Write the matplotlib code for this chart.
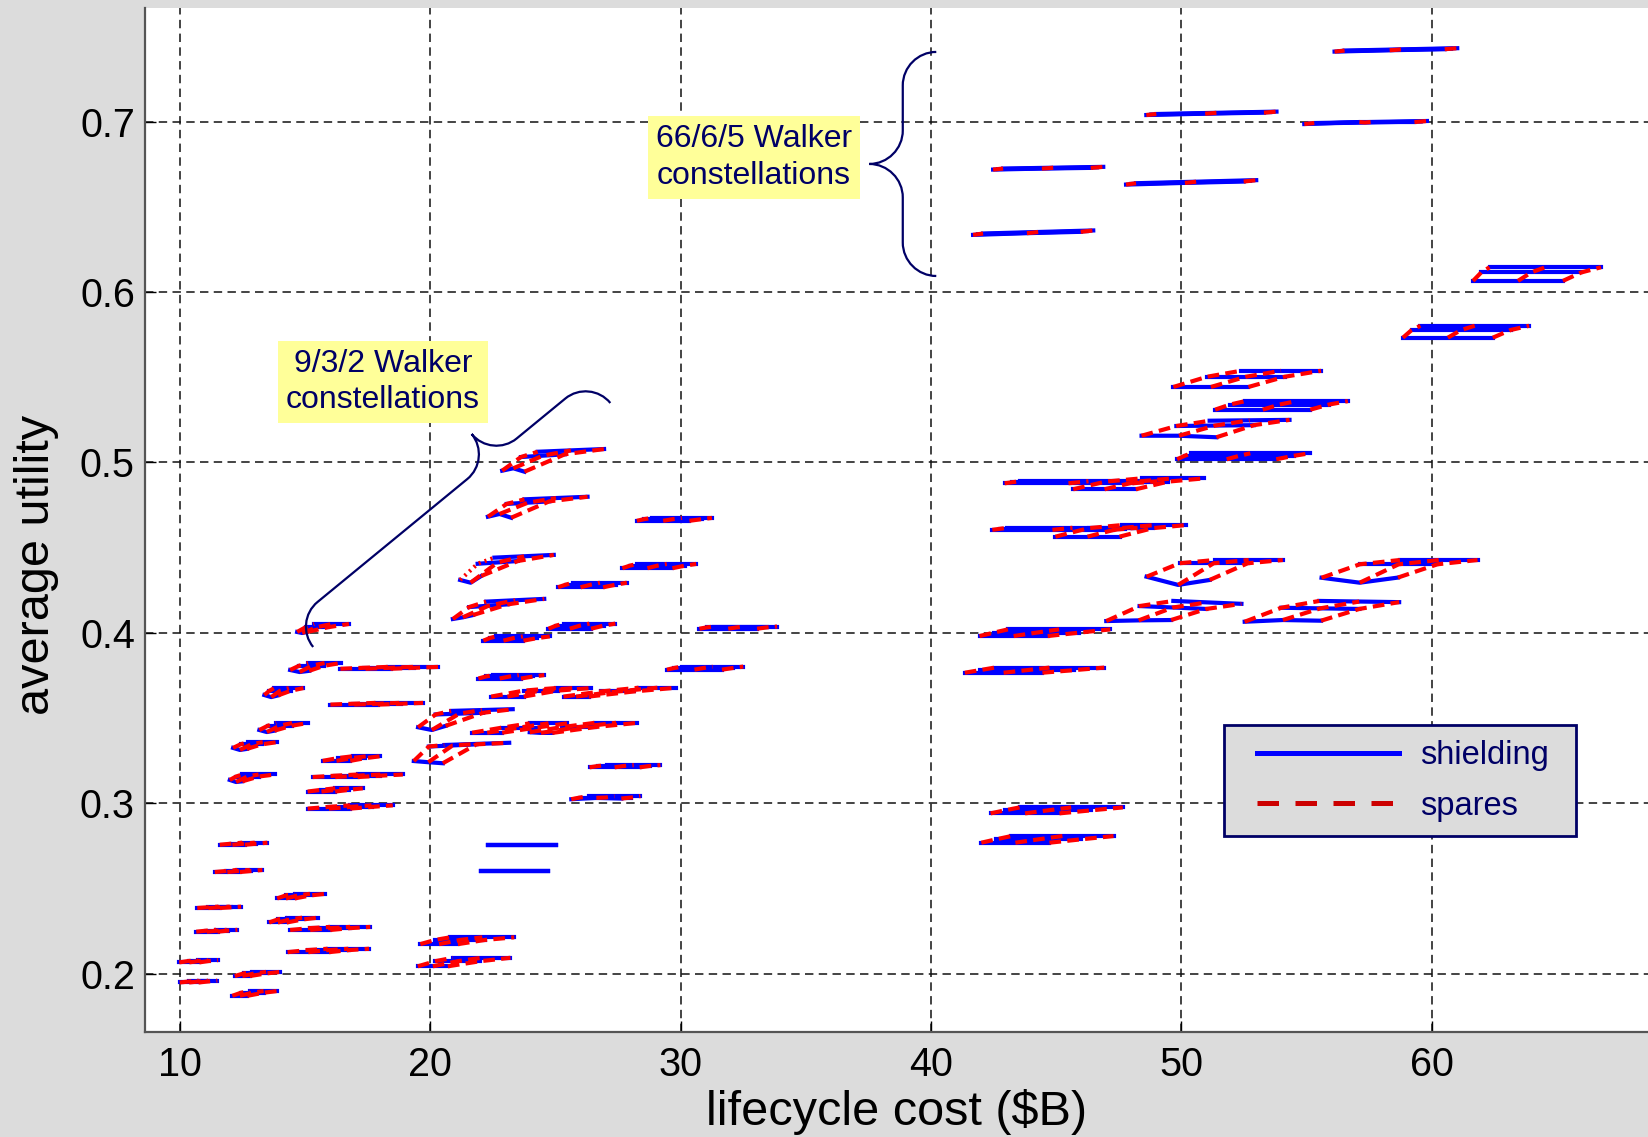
import matplotlib
matplotlib.use("Agg")
import numpy as np
import matplotlib.pyplot as plt
from matplotlib.lines import Line2D
from matplotlib.legend_handler import HandlerLine2D
from matplotlib.path import Path
from matplotlib.patches import PathPatch

plt.rcParams["font.family"] = ["Liberation Sans", "DejaVu Sans"]

# one row per design family:
# cost0, util0, shielding span at 0/1/2 spares, cost shift for 1/2 spares,
# utility shift for 1/2 spares, shielding utility on the 0-spares line (k1, k2),
# utility tilt of the shielding lines with spares
left_groups = [
    (9.97, 0.2068, 0.80, 0.80, 0.80, 0.37, 0.75, 0.0008, 0.0013, 0, 0, 0),
    (9.99, 0.1950, 0.75, 0.75, 0.75, 0.37, 0.75, 0.0006, 0.0011, 0, 0, 0),
    (10.65, 0.2248, 0.85, 0.85, 0.85, 0.40, 0.79, 0.0006, 0.0011, 0, 0, 0),
    (10.69, 0.2387, 0.90, 0.90, 0.90, 0.43, 0.85, 0.0004, 0.0008, 0, 0, 0),
    (11.39, 0.2598, 1.00, 1.00, 1.00, 0.45, 0.90, 0.0006, 0.0012, 0, 0, 0),
    (11.59, 0.2758, 1.00, 1.00, 1.00, 0.45, 0.90, 0.0006, 0.0012, 0, 0, 0),
    (12.19, 0.1988, 0.60, 0.90, 1.10, 0.35, 0.70, 0.0015, 0.0024, 0, 0, 0),
    (12.09, 0.1872, 0.60, 0.90, 1.10, 0.35, 0.70, 0.0018, 0.0028, 0, 0, 0),
    (13.56, 0.2302, 0.70, 1.00, 1.24, 0.35, 0.70, 0.0018, 0.0028, 0, 0, 0),
    (13.88, 0.2443, 0.70, 1.00, 1.22, 0.35, 0.70, 0.0018, 0.0027, 0, 0, 0),
    (14.40, 0.2258, 1.60, 1.60, 1.60, 0.80, 1.60, 0.0011, 0.0018, 0, 0, 0),
    (14.30, 0.2128, 1.65, 1.65, 1.65, 0.80, 1.60, 0.0012, 0.0020, 0, 0, 0),
    (11.99, 0.3138, 0.50, 0.90, 1.30, 0.25, 0.50, 0.0020, 0.0032, -0.0012, -0.0008, 0),
    (12.12, 0.3326, 0.55, 0.85, 1.17, 0.30, 0.60, 0.0021, 0.0034, -0.0012, -0.0006, 0),
    (13.17, 0.3431, 0.60, 0.95, 1.25, 0.34, 0.68, 0.0025, 0.0041, -0.0012, -0.0004, 0),
    (13.37, 0.3636, 0.55, 0.85, 1.16, 0.20, 0.40, 0.0025, 0.0041, -0.0012, -0.0002, 0),
    (14.40, 0.3783, 0.76, 1.00, 1.31, 0.36, 0.72, 0.0025, 0.0041, -0.0012, -0.0005, 0),
    (14.68, 0.4006, 0.40, 0.90, 1.39, 0.34, 0.68, 0.0028, 0.0047, -0.0006, 0.0, 0),
    (16.41, 0.3790, 2.00, 2.00, 2.00, 0.95, 1.90, 0.0006, 0.0011, 0, 0, 0),
    (16.01, 0.3580, 1.90, 1.90, 1.90, 0.90, 1.80, 0.0005, 0.0010, 0, 0, 0),
    (15.70, 0.3250, 1.10, 1.10, 1.10, 0.60, 1.20, 0.0016, 0.0027, 0, 0, 0),
    (15.30, 0.3155, 1.80, 1.80, 1.80, 0.90, 1.80, 0.0008, 0.0015, 0, 0, 0),
    (15.10, 0.3070, 1.10, 1.10, 1.10, 0.55, 1.10, 0.0010, 0.0019, 0, 0, 0),
    (15.10, 0.2970, 1.70, 1.70, 1.70, 0.85, 1.70, 0.0010, 0.0019, 0, 0, 0),
]

middle_groups = [
    (22.87, 0.4952, 0.89, 1.75, 2.65, 0.75, 1.42, 0.0080, 0.0111, 0.0014, -0.0006, 0.0016),
    (22.30, 0.4682, 0.93, 1.70, 2.52, 0.75, 1.46, 0.0075, 0.0102, 0.0016, -0.0006, 0.0015),
    (21.19, 0.4311, 0.84, 1.60, 2.37, 0.70, 1.37, 0.0095, 0.0131, -0.0016, 0.0023, 0.0016),
    (20.90, 0.4082, 0.80, 1.55, 2.32, 0.65, 1.33, 0.0070, 0.0102, 0.0010, 0.0023, 0.0016),
    (22.12, 0.3955, 1.60, 1.90, 2.15, 0.25, 0.50, 0.0015, 0.0025, 0, 0, 0),
    (24.72, 0.4025, 1.70, 1.90, 2.07, 0.30, 0.60, 0.0018, 0.0030, 0, 0, 0),
    (25.10, 0.4268, 1.80, 2.00, 2.15, 0.30, 0.60, 0.0015, 0.0027, 0, 0, 0),
    (27.67, 0.4380, 2.00, 2.20, 2.35, 0.30, 0.60, 0.0015, 0.0025, 0, 0, 0),
    (28.25, 0.4658, 2.10, 2.30, 2.40, 0.30, 0.60, 0.0010, 0.0017, 0, 0, 0),
    (21.92, 0.3733, 1.70, 1.90, 2.03, 0.30, 0.60, 0.0012, 0.0020, 0, 0, 0),
    (22.43, 0.3627, 1.30, 1.35, 1.40, 1.30, 2.60, 0.0035, 0.0050, 0, 0, 0),
    (25.32, 0.3627, 1.00, 1.30, 1.50, 1.50, 3.00, 0.0030, 0.0052, 0, 0, 0),
    (19.51, 0.3447, 1.10, 1.90, 2.46, 0.70, 1.32, 0.0075, 0.0096, -0.0016, 0.0008, 0.0010),
    (21.67, 0.3415, 1.20, 1.35, 1.50, 1.20, 2.30, 0.0030, 0.0055, 0, 0, 0),
    (23.97, 0.3418, 0.90, 1.30, 1.70, 1.30, 2.60, 0.0030, 0.0055, -0.0004, -0.0004, 0),
    (19.34, 0.3249, 1.16, 1.90, 2.59, 0.60, 1.22, 0.0085, 0.0094, -0.0007, -0.0013, 0.0013),
    (26.36, 0.3212, 2.00, 2.05, 2.13, 0.35, 0.70, 0.0008, 0.0013, 0, 0, 0),
    (25.63, 0.3025, 2.00, 2.05, 2.06, 0.35, 0.70, 0.0010, 0.0018, 0.0008, 0.0004, 0),
    (22.30, 0.2757, 2.70, 2.70, 2.70, 0.00, 0.00, 0.0, 0.0, 0, 0, 0),
    (22.02, 0.2604, 2.70, 2.70, 2.70, 0.00, 0.00, 0.0, 0.0, 0, 0, 0),
    (19.60, 0.2175, 1.50, 2.00, 2.55, 0.60, 1.20, 0.0025, 0.0040, 0, 0, 0),
    (19.50, 0.2045, 1.20, 1.80, 2.30, 0.70, 1.40, 0.0030, 0.0050, 0, 0, 0),
    (30.75, 0.4025, 2.30, 2.40, 2.50, 0.30, 0.60, 0.0008, 0.0013, 0, 0, 0),
    (29.45, 0.3785, 2.20, 2.35, 2.45, 0.30, 0.60, 0.0010, 0.0018, 0, 0, 0),
]

right_groups = [
    (41.35, 0.3767, 3.10, 3.75, 4.38, 0.60, 1.19, 0.0015, 0.0030, 0, 0, 0),
    (41.94, 0.3982, 2.72, 3.40, 4.09, 0.57, 1.13, 0.0020, 0.0039, 0, 0, 0),
    (42.38, 0.2942, 2.75, 3.45, 4.12, 0.58, 1.16, 0.0018, 0.0035, 0, 0, 0),
    (42.01, 0.2770, 2.72, 3.40, 4.08, 0.60, 1.20, 0.0020, 0.0039, 0, 0, 0),
    (42.45, 0.4605, 4.80, 5.00, 5.20, 0.30, 0.60, 0.0006, 0.0012, 0, 0, 0),
    (44.97, 0.4565, 2.56, 2.56, 2.56, 1.33, 2.66, 0.0050, 0.0068, 0, 0, 0),
    (42.94, 0.4878, 5.10, 5.30, 5.50, 0.30, 0.60, 0.0006, 0.0012, 0, 0, 0),
    (45.68, 0.4843, 2.50, 2.50, 2.50, 1.30, 2.73, 0.0045, 0.0064, 0, 0, 0),
    (47.00, 0.4070, 2.59, 2.67, 2.72, 1.33, 2.68, 0.0088, 0.0118, 0.0004, 0.0006, -0.0017),
    (52.53, 0.4066, 3.05, 3.12, 3.19, 1.46, 2.98, 0.0082, 0.0122, 0.0010, 0.0006, -0.0007),
    (48.61, 0.4330, 2.52, 2.72, 2.72, 1.32, 2.72, 0.0079, 0.0098, -0.0048, -0.0019, 0),
    (55.60, 0.4324, 3.05, 3.10, 3.10, 1.53, 3.13, 0.0079, 0.0104, -0.0029, 0.0001, 0),
    (48.41, 0.5157, 2.99, 3.10, 3.19, 1.39, 2.72, 0.0057, 0.0088, 0.0, -0.0009, 0.0005),
    (49.83, 0.5019, 3.96, 4.35, 4.75, 0.30, 0.55, 0.0020, 0.0035, 0, 0, 0),
    (51.35, 0.5310, 3.80, 3.95, 4.10, 0.60, 1.20, 0.0030, 0.0050, 0, 0, 0),
    (49.68, 0.5443, 3.00, 3.10, 3.20, 1.35, 2.70, 0.0060, 0.0095, 0, 0, 0),
    (58.85, 0.5732, 3.59, 3.95, 4.34, 0.35, 0.70, 0.0045, 0.0070, 0, 0, 0),
    (61.65, 0.6065, 3.59, 4.00, 4.45, 0.33, 0.66, 0.0050, 0.0080, 0, 0, 0),
]

walker_66_groups = [
    (41.68, 0.6335, 4.30, 4.35, 4.40, 0.20, 0.40, 0.0004, 0.0008, 0.0010, 0.0018, 0.0018),
    (42.48, 0.6718, 3.90, 3.95, 4.00, 0.20, 0.40, 0.0003, 0.0006, 0.0006, 0.0010, 0.0010),
    (47.79, 0.6630, 4.70, 4.75, 4.80, 0.20, 0.40, 0.0004, 0.0008, 0.0010, 0.0018, 0.0018),
    (48.60, 0.7038, 4.70, 4.75, 4.80, 0.20, 0.40, 0.0003, 0.0006, 0.0008, 0.0014, 0.0014),
    (54.91, 0.6985, 4.40, 4.45, 4.50, 0.20, 0.40, 0.0003, 0.0006, 0.0012, 0.0012, 0.0012),
    (56.12, 0.7410, 4.40, 4.45, 4.50, 0.20, 0.40, 0.0003, 0.0006, 0.0008, 0.0014, 0.0014),
]

# group whose no-shielding spares line is dotted
dotted_groups = [("middle", 2)]

shield_frac = [0.0, 0.5, 1.0]

x_ticks = [10, 20, 30, 40, 50, 60]
x_tick_labels = ["10", "20", "30", "40", "50", "60"]
y_ticks = [0.2, 0.3, 0.4, 0.5, 0.6, 0.7]
y_tick_labels = ["0.2", "0.3", "0.4", "0.5", "0.6", "0.7"]

BLUE = "#0000ff"
RED = "#ff0000"
NAVY = "#000066"
GREY = "#dcdcdc"


def group_grid(row):
    c0, u0, w0, w1, w2, dc1, dc2, du1, du2, k1, k2, kt = row
    spans = [w0, w1, w2]
    dcs = [0.0, dc1, dc2]
    dus = [0.0, du1, du2]
    ks = [0.0, k1, k2]
    cost = np.zeros((3, 3))
    util = np.zeros((3, 3))
    for s in range(3):
        for k in range(3):
            cost[s, k] = c0 + dcs[s] + spans[s] * shield_frac[k]
            if s == 0:
                util[s, k] = u0 + ks[k]
            else:
                util[s, k] = u0 + dus[s] + kt * shield_frac[k]
    return cost, util


def brace(ax, start, end, depth, frac, side):
    a = ax.transData.transform(start)
    b = ax.transData.transform(end)
    L = np.hypot(*(b - a))
    d = (b - a) / L
    n = side * np.array([-d[1], d[0]])
    h = depth / 2.0
    r = h
    T = frac * L
    pts = [(0, 0),
           (0, 0.55 * h), (0.45 * r, h), (r, h),
           (T - r, h),
           (T - 0.45 * r, h), (T, 1.45 * h), (T, 2 * h),
           (T, 1.45 * h), (T + 0.45 * r, h), (T + r, h),
           (L - r, h),
           (L - 0.45 * r, h), (L, 0.55 * h), (L, 0)]
    codes = [Path.MOVETO] + [Path.CURVE4] * 3 + [Path.LINETO] + [Path.CURVE4] * 6 \
        + [Path.LINETO] + [Path.CURVE4] * 3
    disp = np.array([a + t * d + v * n for t, v in pts])
    data = ax.transData.inverted().transform(disp)
    ax.add_patch(PathPatch(Path(data, codes), fc="none", ec=NAVY, lw=1.6,
                           clip_on=False, zorder=5))


fig = plt.figure(figsize=(16.48, 11.37), dpi=100, facecolor=GREY)
ax = fig.add_axes([0.0878, 0.0924, 1 - 0.0878, 0.993 - 0.0924])
ax.set_facecolor("white")
ax.set_xlim(8.59, 68.64)
ax.set_ylim(0.166, 0.7666)

clusters = [("left", left_groups), ("middle", middle_groups),
            ("right", right_groups), ("walker66", walker_66_groups)]
for name, rows in clusters:
    for i, row in enumerate(rows):
        cost, util = group_grid(row)
        for s in range(3):
            ax.plot(cost[s], util[s], color=BLUE, lw=3.0, zorder=3)
        for k in range(3):
            if (name, i) in dotted_groups and k == 0:
                ax.plot(cost[:, k], util[:, k], color=RED, lw=3.0,
                        linestyle=(0, (0.5, 1.0)), zorder=4)
            else:
                ax.plot(cost[:, k], util[:, k], color=RED, lw=3.0,
                        linestyle=(0, (2.8, 1.5)), zorder=4)

ax.set_xticks(x_ticks)
ax.set_xticklabels(x_tick_labels)
ax.set_yticks(y_ticks)
ax.set_yticklabels(y_tick_labels)
ax.tick_params(direction="in", length=8, width=1, labelsize=28.5, colors="black")
ax.tick_params(axis="x", pad=10)
ax.tick_params(axis="y", pad=7)
ax.grid(True, color="#111111", lw=1.1, linestyle=(0, (5.5, 3.5)))
ax.set_axisbelow(True)
for side in ["top", "right"]:
    ax.spines[side].set_visible(False)
for side in ["left", "bottom"]:
    ax.spines[side].set_color("#555555")
    ax.spines[side].set_linewidth(1.6)

ax.set_xlabel("lifecycle cost ($B)", fontsize=35)
ax.xaxis.label.set_va("center")
ax.xaxis.set_label_coords(0.5, -0.078)
ax.set_ylabel("average utility", fontsize=35)
ax.yaxis.label.set_va("center")
ax.yaxis.set_label_coords(-0.0718, 0.456)

box = dict(boxstyle="square,pad=0.25", fc="#ffff99", ec="none")
ax.text(32.93, 0.6790, "66/6/5 Walker\nconstellations", ha="center", va="center",
        fontsize=23, color=NAVY, bbox=box, zorder=6, linespacing=1.3)
ax.text(18.10, 0.5472, "9/3/2 Walker\nconstellations", ha="center", va="center",
        fontsize=23, color=NAVY, bbox=box, zorder=6, linespacing=1.3)

brace(ax, (40.21, 0.7408), (40.21, 0.6094), 67, 0.5, -1)
brace(ax, (15.32, 0.3918), (27.19, 0.5349), 64, 0.67, 1)

handles = [Line2D([], [], color=BLUE, lw=3.6),
           Line2D([], [], color="#cc0000", lw=3.6, linestyle=(0, (4.3, 3.3)))]
leg = ax.legend(handles, ["shielding", "spares"], loc="lower left",
                bbox_to_anchor=(0.718, 0.191, 0.234, 0.109), mode="expand",
                fontsize=23.5, frameon=True, fancybox=False, edgecolor=NAVY,
                facecolor=GREY, framealpha=1, handlelength=4.9,
                handletextpad=0.65, borderaxespad=0, labelspacing=0.6,
                borderpad=0.45,
                handler_map={Line2D: HandlerLine2D(xpad=0.55)})
leg.get_frame().set_linewidth(2)
for t in leg.get_texts():
    t.set_color(NAVY)
leg.set_zorder(7)

fig.savefig("out.png", dpi=100, facecolor=GREY)
